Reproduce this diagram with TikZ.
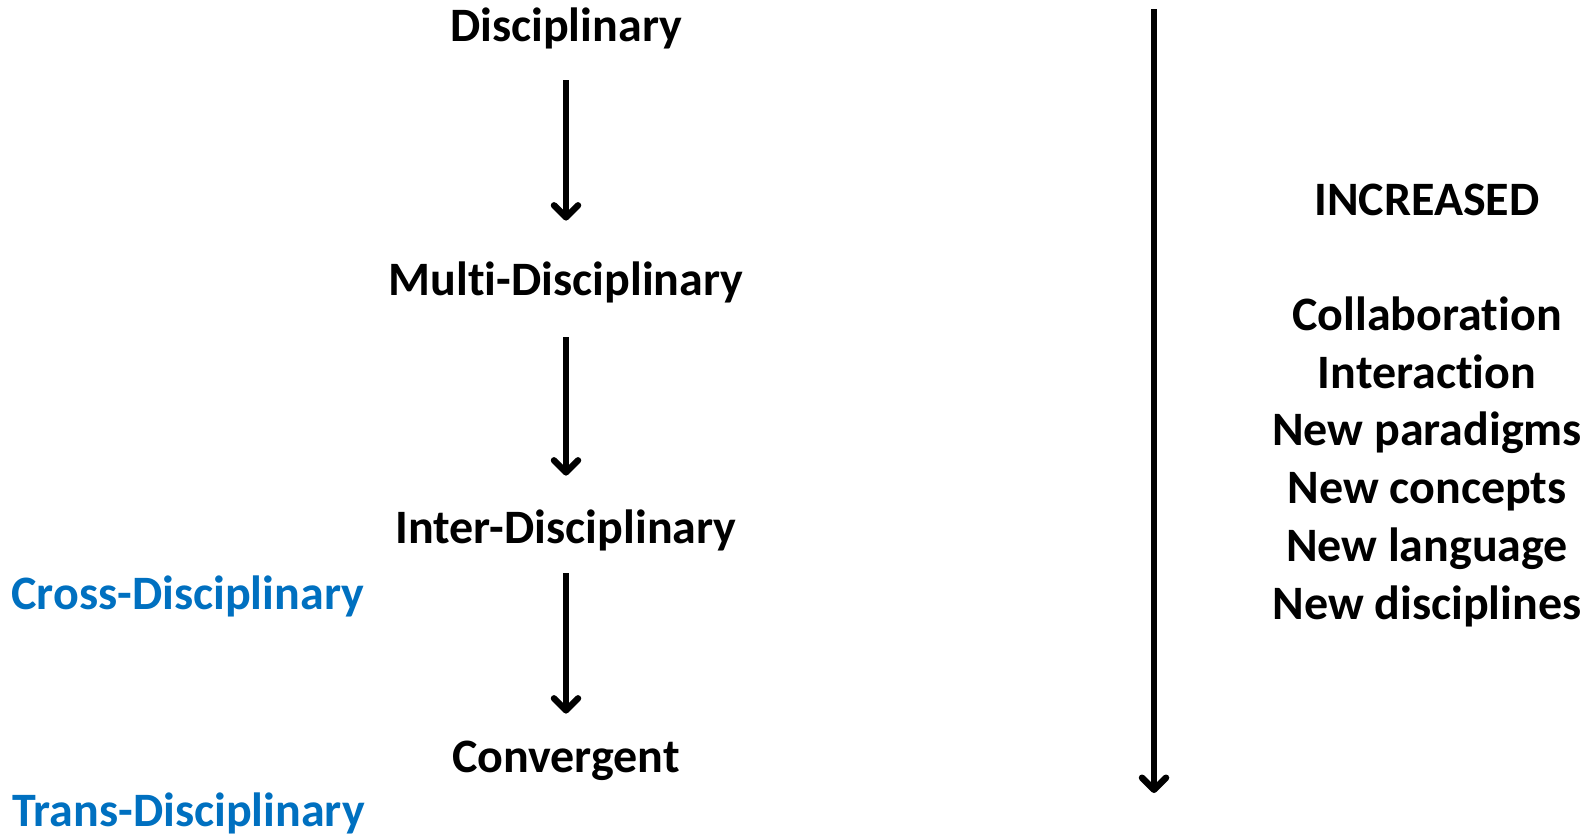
\documentclass[tikz,border=0pt]{standalone}
\usepackage{fontspec}
\setmainfont{Carlito}[Ligatures=NoCommon]
\usetikzlibrary{arrows.meta}
\definecolor{levelblue}{HTML}{0070C0}
\tikzset{
x=0.5pt, y=-0.5pt, % one unit is one pixel of the reference
>={Straight Barb[length=6pt, width=12pt, round]}, % open arrow heads
flow/.style={->, line width=3.25pt}, % sets the look of every arrow
stage/.style={inner sep=0pt, anchor=base, text height=17pt, text depth=5pt,
  font=\bfseries\fontsize{24pt}{29pt}\selectfont}, % black labels
level/.style={stage, anchor=base west, text=levelblue}, % blue labels on the left
}

\begin{document}
\begin{tikzpicture}
    \useasboundingbox (0,0) rectangle (1593,835);

    \node[stage] (disc) at (566,41) {Disciplinary};
    \node[stage] (multi) at (566,295.5) {Multi-Disciplinary};
    \node[stage] (inter) at (566,543.5) {Inter-Disciplinary};
    \node[stage] (conv) at (566,772) {Convergent};

    \node[level] (cross) at (11,609.5) {Cross-Disciplinary};
    \node[level] (trans) at (12,826) {Trans-Disciplinary};

    \node[stage] (incr) at (1427,215) {INCREASED};
    \foreach \txt [count=\i from 0] in {Collaboration, Interaction, New paradigms,
        New concepts, New language, New disciplines}
        \node[stage] (item\i) at (1427,330.5+57.7*\i) {\txt};

    \coordinate (top) at (1154,9);
    \coordinate (bottom) at (1154,793);

    \draw[flow] ([yshift=-14.5pt]disc.south) -- ([yshift=20.25pt]multi.north);
    \draw[flow] ([yshift=-15.75pt]multi.south) -- ([yshift=16.75pt]inter.north);
    \draw[flow] ([yshift=-9.75pt]inter.south) -- ([yshift=12pt]conv.north);
    \draw[flow] (top) -- (bottom);
\end{tikzpicture}
\end{document}
